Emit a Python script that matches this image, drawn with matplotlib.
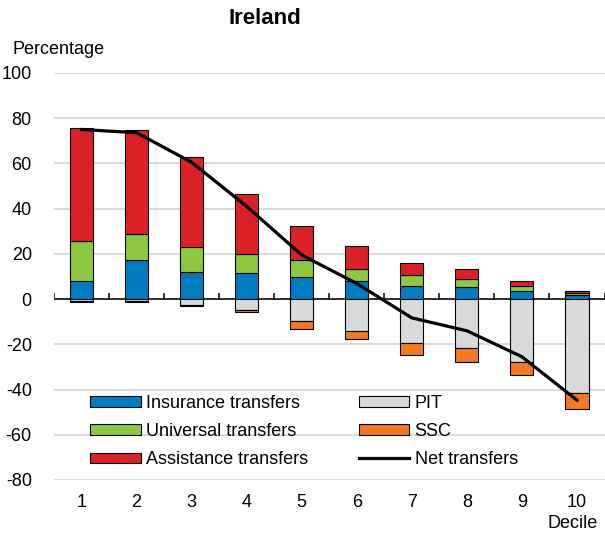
import matplotlib
matplotlib.use("Agg")
import matplotlib.pyplot as plt
import numpy as np

plt.rcParams['font.family'] = ['Liberation Sans', 'DejaVu Sans']

deciles = ["1", "2", "3", "4", "5", "6", "7", "8", "9", "10"]
insurance = [8.0, 17.1, 12.2, 11.7, 10.0, 8.0, 5.9, 5.3, 3.5, 1.8]
universal = [17.8, 11.8, 10.7, 8.3, 7.1, 5.3, 4.6, 3.4, 2.1, 1.0]
assistance = [50.0, 45.8, 39.8, 26.3, 15.3, 10.4, 5.3, 4.4, 2.4, 0.6]
pit = [-0.8, -0.9, -2.6, -4.6, -9.7, -14.0, -19.3, -21.5, -27.7, -41.4]
ssc = [-0.4, -0.4, -0.4, -1.1, -3.6, -3.7, -5.6, -6.2, -6.0, -7.2]
net = [75.0, 73.6, 60.5, 41.0, 19.5, 6.9, -8.3, -14.0, -25.5, -44.7]
yticks = [-80, -60, -40, -20, 0, 20, 40, 60, 80, 100]

c_ins = "#037bc1"
c_uni = "#8cc841"
c_ass = "#da2128"
c_pit = "#d9d9d9"
c_ssc = "#f47920"

FS = 13

fig = plt.figure(figsize=(6.05, 5.38), dpi=100)
ax = fig.add_axes([54 / 605, 1 - 480 / 538, 550.5 / 605, 407 / 538])

x = np.arange(1, len(deciles) + 1)
w = 0.42
ins = np.array(insurance)
uni = np.array(universal)
ass = np.array(assistance)
p = np.array(pit)
s = np.array(ssc)

kw = dict(width=w, edgecolor="black", linewidth=0.8, zorder=3)
b1 = ax.bar(x, ins, color=c_ins, label="Insurance transfers", **kw)
b2 = ax.bar(x, uni, bottom=ins, color=c_uni, label="Universal transfers", **kw)
b3 = ax.bar(x, ass, bottom=ins + uni, color=c_ass, label="Assistance transfers", **kw)
b4 = ax.bar(x, p, color=c_pit, label="PIT", **kw)
b5 = ax.bar(x, s, bottom=p, color=c_ssc, label="SSC", **kw)
l1, = ax.plot(x, net, color="black", linewidth=2.3, zorder=5, label="Net transfers")

ax.axhline(0, color="black", linewidth=1.1, zorder=2)
ax.vlines(np.arange(0.5, len(deciles) + 1, 1.0), 0, 2.6, color="black", linewidth=1.1, zorder=2)

ax.set_xlim(0.5, 10.5)
ax.set_ylim(-80, 100)
ax.set_yticks(yticks)
ax.set_yticklabels([str(v) for v in yticks])
ax.set_xticks(x)
ax.set_xticklabels(deciles)
ax.tick_params(axis="both", length=0, labelsize=FS)
ax.tick_params(axis="y", pad=16)
ax.tick_params(axis="x", pad=10)
for sp in ax.spines.values():
    sp.set_visible(False)
ax.grid(axis="y", color="#d9d9d9", linewidth=1.4, zorder=0)
ax.set_axisbelow(True)

fig.text(12 / 605, 1 - 50 / 538, "Percentage", fontsize=FS, va="center", ha="left")
fig.text(598 / 605, 1 - 523 / 538, "Decile", fontsize=FS, va="center", ha="right")
fig.text(265 / 605, 1 - 18 / 538, "Ireland", fontsize=16, fontweight="bold", va="center", ha="center")

handles = [b1, b2, b3, b4, b5, l1]
labels = ["Insurance transfers", "Universal transfers", "Assistance transfers", "PIT", "SSC", "Net transfers"]
leg = ax.legend(handles, labels, ncol=2, loc="upper left",
                bbox_to_anchor=((90 - 54) / 550.5, (480 - 395) / 407),
                frameon=False, fontsize=FS, handlelength=2.8, handleheight=0.55,
                handletextpad=0.3, columnspacing=2.8, labelspacing=0.62,
                borderpad=0, borderaxespad=0)

fig.savefig("out.png", dpi=100)
